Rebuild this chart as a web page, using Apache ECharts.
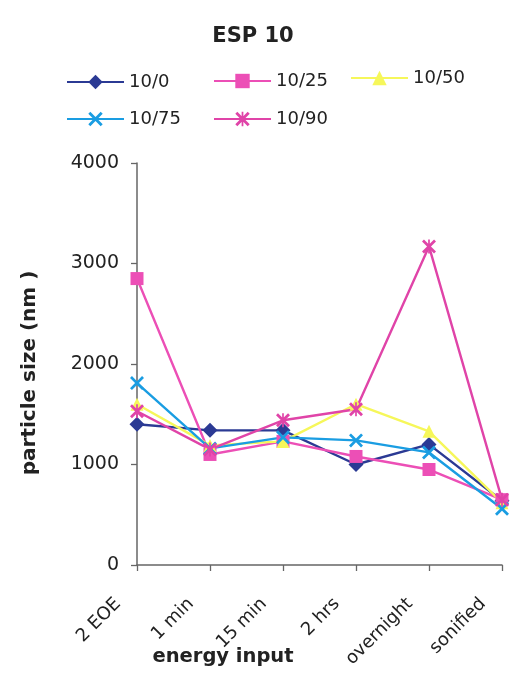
<!DOCTYPE html>
<html>
<head>
<meta charset="utf-8">
<script src="https://cdn.jsdelivr.net/npm/echarts@6/dist/echarts.min.js"></script>
<style>
  html, body { margin: 0; padding: 0; background: #fff; }
  #chart { width: 525px; height: 674px; }
</style>
</head>
<body>
<div id="chart"></div>
<script>
// Energy input steps along the x axis
const categories = ['2 EOE', '1 min', '15 min', '2 hrs', 'overnight', 'sonified'];

// Particle size (nm) for each formulation
const s10_0  = [1400, 1340, 1340, 1000, 1200, 640];
const s10_25 = [2850, 1100, 1230, 1080, 950, 650];
const s10_50 = [1600, 1190, 1230, 1600, 1330, 620];
const s10_75 = [1810, 1160, 1270, 1240, 1120, 560];
const s10_90 = [1530, 1150, 1440, 1550, 3170, 650];

const yTicks = [0, 1000, 2000, 3000, 4000];

const FONT = '"DejaVu Sans", sans-serif';
const CROSS = 'path://M0,1.4 L1.4,0 L5,3.6 L8.6,0 L10,1.4 L6.4,5 L10,8.6 L8.6,10 L5,6.4 L1.4,10 L0,8.6 L3.6,5 Z';
const STAR = 'path://M0,1.4 L1.4,0 L5,3.6 L8.6,0 L10,1.4 L6.4,5 L10,8.6 L8.6,10 L5,6.4 L1.4,10 L0,8.6 L3.6,5 Z M4.4,0 L5.6,0 L5.6,10 L4.4,10 Z';

const seriesDefs = [
  { name: '10/0',  data: s10_0,  color: '#2b3a94', symbol: 'diamond',  size: 15 },
  { name: '10/25', data: s10_25, color: '#ec4fb6', symbol: 'rect',     size: 13 },
  { name: '10/50', data: s10_50, color: '#f6f75a', symbol: 'triangle', size: 13 },
  { name: '10/75', data: s10_75, color: '#1a9de2', symbol: CROSS,      size: 14 },
  { name: '10/90', data: s10_90, color: '#e044a8', symbol: STAR,       size: 14 }
];

// one legend block per entry so each sits where it belongs
const legendPos = [
  { left: 66,  top: 73 },
  { left: 213, top: 72 },
  { left: 350, top: 69 },
  { left: 66,  top: 110 },
  { left: 213, top: 110 }
];

const chart = echarts.init(document.getElementById('chart'), null, { renderer: 'canvas' });

chart.setOption({
  backgroundColor: '#ffffff',
  animation: false,
  legend: seriesDefs.map((s, i) => ({
    data: [s.name],
    left: legendPos[i].left,
    top: legendPos[i].top,
    padding: 0,
    itemWidth: 57,
    itemHeight: 18,
    textStyle: { fontFamily: FONT, fontSize: 18, color: '#222' },
    selectedMode: false
  })),
  grid: { left: 137, right: 23, top: 163, bottom: 109, containLabel: false },
  xAxis: {
    type: 'category',
    data: categories,
    boundaryGap: false,
    axisLine: { lineStyle: { color: '#666', width: 1.5 } },
    axisTick: { show: true, length: 6, lineStyle: { color: '#666', width: 1.3 } },
    axisLabel: {
      rotate: 45,
      margin: 17,
      padding: [0, 27, 0, 0],
      fontFamily: FONT,
      fontSize: 18,
      color: '#222'
    },
    splitLine: { show: false }
  },
  yAxis: {
    type: 'value',
    min: yTicks[0],
    max: yTicks[yTicks.length - 1],
    interval: 1000,
    axisLine: { show: true, lineStyle: { color: '#666', width: 1.5 } },
    axisTick: { show: true, length: 6, lineStyle: { color: '#666', width: 1.3 } },
    axisLabel: { margin: 18, fontFamily: FONT, fontSize: 19, color: '#222',
                 formatter: v => String(v) },
    splitLine: { show: false }
  },
  series: seriesDefs.map(s => ({
    name: s.name,
    type: 'line',
    data: s.data,
    symbol: s.symbol,
    symbolSize: s.size,
    color: s.color,
    lineStyle: { color: s.color, width: 2.4 },
    itemStyle: { color: s.color },
    z: 2
  })),
  graphic: [
    {
      type: 'text',
      position: [253, 37],
      style: { text: 'ESP 10', align: 'center', verticalAlign: 'middle',
               font: 'bold 21px ' + FONT, fill: '#222' }
    },
    {
      type: 'text',
      position: [30, 373],
      rotation: Math.PI / 2,
      style: { text: 'particle size (nm )', align: 'center', verticalAlign: 'middle',
               font: 'bold 20px ' + FONT, fill: '#222' }
    },
    {
      type: 'text',
      position: [223, 657],
      style: { text: 'energy input', align: 'center', verticalAlign: 'middle',
               font: 'bold 19.5px ' + FONT, fill: '#222' }
    }
  ]
});
</script>
</body>
</html>
